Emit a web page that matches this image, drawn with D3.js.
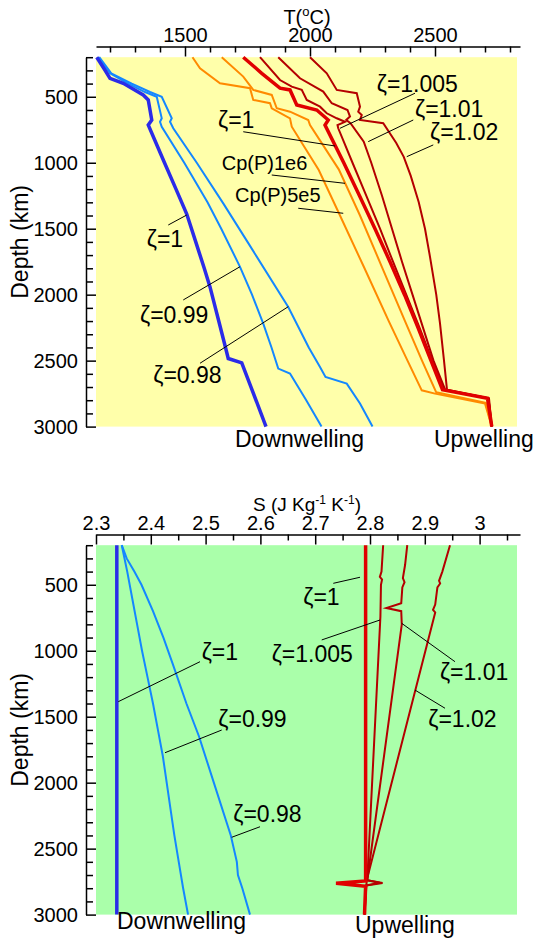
<!DOCTYPE html>
<html><head><meta charset="utf-8">
<script src="https://cdn.jsdelivr.net/npm/d3@7"></script>
<style>body{margin:0;background:#fff}</style>
</head><body>
<svg id="c" width="536" height="939" xmlns="http://www.w3.org/2000/svg"></svg>
<script>
// ---------- DATA (depth km, value) ----------
// Temperature (°C) profiles
const tDownZ1 = [[200,1147],[295,1179],[360,1200],[398,1253],[486,1333],[524,1353],[676,1367],[714,1353],[1000,1418],[1200,1464],[1389,1507],[1600,1543],[1800,1577],[1941,1600],[2200,1635],[2400,1662],[2484,1673],[2517,1727],[2700,1764],[2900,1804],[3000,1824]];
const tDownZ099 = [[200,1153],[322,1200],[400,1273],[464,1340],[500,1387],[663,1407],[689,1400],[727,1407],[1000,1497],[1300,1590],[1500,1645],[1789,1720],[2000,1768],[2219,1813],[2400,1846],[2560,1873],[2598,1920],[2800,1985],[3000,2046]];
const tDownZ098 = [[200,1157],[322,1205],[400,1287],[464,1360],[500,1407],[663,1447],[689,1440],[739,1453],[1000,1547],[1308,1653],[1600,1750],[2093,1913],[2400,1995],[2548,2040],[2624,2062],[2674,2147],[2825,2200],[3000,2250]];
const tUpCp5e5 = [[200,1530],[284,1560],[398,1640],[435,1760],[524,1773],[549,1840],[587,1847],[663,1920],[727,1927],[1055,2035],[1400,2120],[1800,2218],[2200,2315],[2500,2390],[2725,2447],[2750,2500],[2825,2700],[3000,2727]];
const tUpCp1e6 = [[200,1647],[347,1733],[448,1773],[486,1847],[587,1867],[613,1920],[676,1993],[714,2000],[1050,2115],[1400,2200],[1800,2290],[2200,2380],[2500,2448],[2740,2505],[2820,2703],[3000,2727]];
const tUpZ1 = [[200,1733],[322,1807],[435,1880],[448,1920],[562,1947],[600,2027],[676,2073],[714,2060],[1000,2135],[1250,2198],[1500,2260],[1750,2320],[2000,2378],[2250,2432],[2500,2484],[2721,2530],[2785,2710],[3000,2727]];
const tUpZ1005 = [[200,1800],[373,1880],[423,1927],[448,1967],[524,1987],[575,2040],[625,2067],[663,2107],[690,2140],[714,2110],[739,2113],[1000,2170],[1250,2225],[1500,2280],[1750,2332],[2000,2385],[2250,2438],[2500,2489],[2721,2536],[2785,2712],[3000,2727]];
const tUpZ101 = [[200,1873],[360,1960],[461,2053],[549,2087],[600,2150],[650,2160],[676,2145],[700,2162],[841,2215],[1000,2245],[1250,2288],[1500,2328],[1750,2368],[2000,2410],[2250,2452],[2500,2494],[2721,2541],[2785,2714],[3000,2727]];
const tUpZ102 = [[200,2000],[322,2067],[448,2107],[473,2187],[575,2200],[613,2193],[638,2207],[676,2200],[701,2293],[850,2345],[955,2375],[1100,2403],[1300,2435],[1500,2460],[1713,2480],[2000,2505],[2218,2520],[2500,2536],[2721,2548],[2785,2716],[3000,2727]];

// Entropy (J Kg-1 K-1) profiles
const sDownZ1 = [[200,2.338],[3000,2.338]];
const sDownZ099 = [[200,2.347],[400,2.357],[600,2.366],[800,2.375],[1000,2.384],[1200,2.394],[1400,2.404],[1600,2.413],[1800,2.422],[2000,2.429],[2200,2.436],[2400,2.443],[2600,2.451],[2800,2.459],[3000,2.468]];
const sDownZ098 = [[200,2.347],[300,2.356],[400,2.370],[500,2.383],[700,2.404],[900,2.423],[1100,2.440],[1400,2.465],[1650,2.488],[2000,2.515],[2400,2.546],[2600,2.557],[2700,2.559],[2800,2.567],[3000,2.581]];
const sUpZ1 = [[200,2.792],[2745,2.792],[2763,2.738],[2785,2.792],[3000,2.790]];
const sUpZ1005 = [[200,2.824],[400,2.821],[440,2.818],[460,2.822],[500,2.820],[740,2.819],[2740,2.795],[2760,2.823],[2780,2.793],[3000,2.790]];
const sUpZ101 = [[200,2.868],[350,2.864],[450,2.860],[480,2.863],[520,2.859],[640,2.857],[676,2.830],[700,2.857],[800,2.858],[2740,2.795],[2758,2.818],[2780,2.792],[3000,2.790]];
const sUpZ102 = [[200,2.946],[400,2.932],[470,2.926],[490,2.928],[520,2.923],[650,2.919],[690,2.915],[710,2.919],[2740,2.794],[3000,2.790]];

// Tick values
const depthTicks = d3.range(200, 3001, 100);
const tempTicks = d3.range(1200, 2801, 100);
const entTicks = d3.range(0, 16).map(i => +(2.3 + i * 0.05).toFixed(2));

// Annotations (text, label anchor [value, depth], leader [v1,d1,v2,d2], font size)
const tLabels = [
  ["ζ=1.005", 2267, 461, [2420,473, 2120,739], 23],
  ["ζ=1.01", 2420, 651, [2413,676, 2233,840], 23],
  ["ζ=1.02", 2480, 828, [2493,865, 2387,954], 23],
  ["ζ=1", 1632, 739, [1733,765, 2100,873], 23],
  ["Cp(P)1e6", 1647, 1055, [1847,1093, 2140,1156], 20],
  ["Cp(P)5e5", 1700, 1295, [1953,1345, 2133,1383], 20],
  ["ζ=1", 1347, 1636, [1433,1472, 1507,1396], 23],
  ["ζ=0.99", 1320, 2217, [1493,2040, 1720,1788], 23],
  ["ζ=0.98", 1373, 2672, [1560,2520, 1913,2091], 23]
];
const sLabels = [
  ["ζ=1", 2.4929, 1070, [2.4898,1083, 2.3407,1386], 23],
  ["ζ=0.99", 2.5232, 1576, [2.5294,1601, 2.4259,1773], 23],
  ["ζ=0.98", 2.5505, 2296, [2.5993,2334, 2.5476,2414], 23],
  ["ζ=1", 2.6783, 653, [2.7330,489, 2.7818,443], 23],
  ["ζ=1.005", 2.6206, 1083, [2.7119,918, 2.8182,767], 23],
  ["ζ=1.01", 2.9277, 1222, [2.9551,1083, 2.8578,792], 23],
  ["ζ=1.02", 2.9064, 1576, [2.9369,1436, 2.8821,1298], 23]
];

// ---------- DRAWING ----------
const FONT = "'Liberation Sans', Arial, Helvetica, sans-serif";
const svg = d3.select("#c");
const OFF = 488;
const PL = 96, PR = 517;

const xT = d3.scaleLinear().domain([1144, 2840]).range([96, 520]);
const yT = d3.scaleLinear().domain([200, 3000]).range([57.2, 426.6]);
const xS = d3.scaleLinear().domain([2.3, 2.3 + 424 / 548]).range([96, 520]);
const yS = d3.scaleLinear().domain([200, 3000]).range([57.2 + OFF, 426.6 + OFF]);

const blueThick = "#2b2be8", blueThin = "#1487ff", orange = "#ff8a00", redThick = "#e00000", redThin = "#b40000";

function panel(x, y, bg, xTicks, xFmt, axisY, series, labels, titleParts, titleY, downLbl, upLbl) {
  const g = svg.append("g");
  g.append("rect").attr("x", PL).attr("y", y(200)).attr("width", PR - PL)
    .attr("height", y(3000) - y(200)).attr("fill", bg);

  // top axis
  const ax = g.append("g").attr("transform", `translate(0,${axisY})`)
    .call(d3.axisTop(x).tickValues(xTicks).tickFormat(xFmt).tickSizeInner(-6).tickSizeOuter(0).tickPadding(5));
  ax.selectAll(".tick line").filter((d, i) => xFmt(d, i) !== "").attr("y2", 10);
  ax.selectAll("text").attr("font-size", 20).attr("font-family", FONT).attr("fill", "#000");
  ax.selectAll("path,line").attr("stroke", "#000").attr("stroke-width", 1.5);

  // left axis
  const ay = g.append("g").attr("transform", "translate(86,0)")
    .call(d3.axisLeft(y).tickValues(depthTicks).tickFormat(d => d % 500 === 0 ? d : "")
      .tickSizeInner(-7).tickSizeOuter(0).tickPadding(8));
  ay.selectAll(".tick line").filter(d => d % 500 === 0).attr("x2", 10);
  ay.selectAll("text").attr("font-size", 20).attr("font-family", FONT).attr("fill", "#000");
  ay.selectAll("path,line").attr("stroke", "#000").attr("stroke-width", 1.5);

  // y label
  const cy = (y(200) + y(3000)) / 2;
  g.append("text").attr("transform", `translate(28,${cy}) rotate(-90)`)
    .attr("text-anchor", "middle").attr("font-size", 23).attr("font-family", FONT).text("Depth (km)");

  // title with superscripts: [text, dy, size]
  const t = g.append("text").attr("x", 307).attr("y", titleY).attr("text-anchor", "middle")
    .attr("font-size", 20).attr("font-family", FONT);
  titleParts.forEach(([s, dy, fs]) => {
    t.append("tspan").attr("dy", dy).attr("font-size", fs).text(s);
  });

  // series
  const line = d3.line().x(d => x(d[1])).y(d => y(d[0]));
  series.forEach(([data, col, w]) => {
    g.append("path").datum(data).attr("d", line).attr("fill", "none")
      .attr("stroke", col).attr("stroke-width", w).attr("stroke-linejoin", "miter");
  });

  // labels
  labels.forEach(([txt, lx, ld, l, fs]) => {
    g.append("line").attr("x1", x(l[0])).attr("y1", y(l[1])).attr("x2", x(l[2])).attr("y2", y(l[3]))
      .attr("stroke", "#000").attr("stroke-width", 1);
    g.append("text").attr("x", x(lx)).attr("y", y(ld)).attr("font-size", fs)
      .attr("font-family", FONT).text(txt);
  });

  g.append("text").attr("x", downLbl[0]).attr("y", downLbl[1]).attr("font-size", 23).attr("font-family", FONT).text("Downwelling");
  g.append("text").attr("x", upLbl[0]).attr("y", upLbl[1]).attr("font-size", 23).attr("font-family", FONT).text("Upwelling");
}

panel(xT, yT, "#ffffaa", tempTicks, d => d % 500 === 0 ? d : "", 46.5,
  [[tDownZ098, blueThin, 2], [tDownZ099, blueThin, 2], [tDownZ1, blueThick, 3.5],
   [tUpCp5e5, orange, 2], [tUpCp1e6, orange, 2],
   [tUpZ102, redThin, 2], [tUpZ101, redThin, 2], [tUpZ1005, redThin, 2], [tUpZ1, redThick, 3.5]],
  tLabels, [["T(", 0, 20], ["o", -8, 13], ["C)", 8, 20]], 24, [235, 447], [434, 447]);

panel(xS, yS, "#aaffaa", entTicks, (d, i) => i % 2 === 0 ? String(+d.toFixed(1)) : "", 46.5 + OFF,
  [[sDownZ098, blueThin, 2], [sDownZ099, blueThin, 2], [sDownZ1, blueThick, 3.5],
   [sUpZ102, redThin, 2], [sUpZ101, redThin, 2], [sUpZ1005, redThin, 2], [sUpZ1, redThick, 3.5]],
  sLabels, [["S (J Kg", 0, 19], ["-1", -7, 12], [" K", 7, 19], ["-1", -7, 12], [")", 7, 19]], 511, [117, 929], [355, 933]);
</script>
</body></html>
